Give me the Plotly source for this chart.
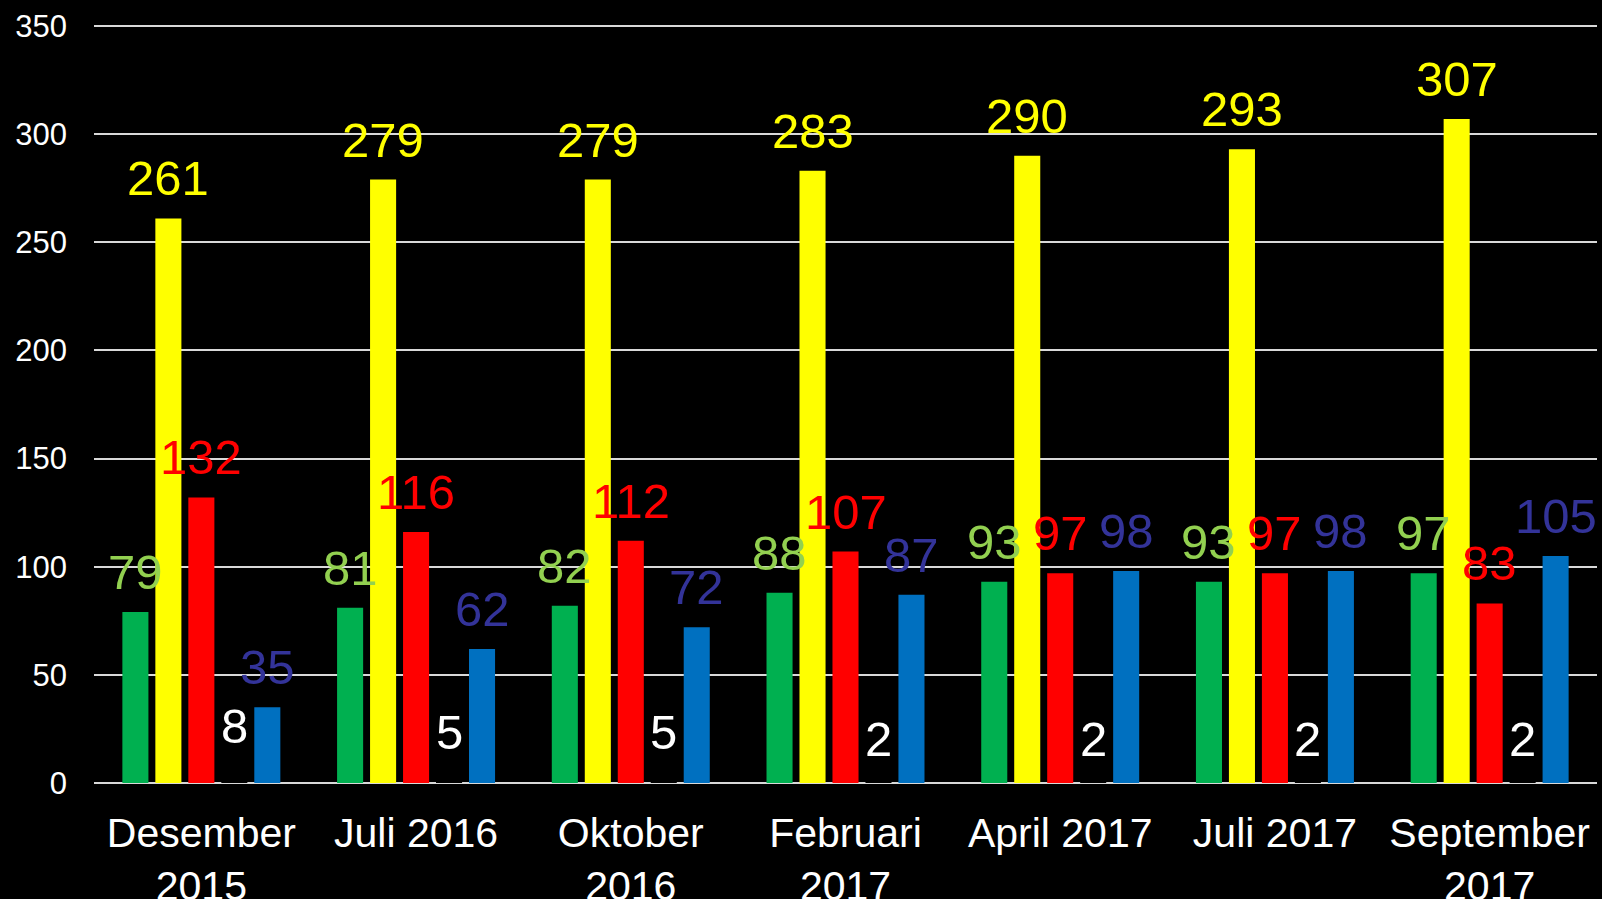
import plotly.graph_objects as go

categories = ["Desember<br>2015", "Juli 2016", "Oktober<br>2016", "Februari<br>2017",
              "April 2017", "Juli 2017", "September<br>2017"]
green_vals = [79, 81, 82, 88, 93, 93, 97]
yellow_vals = [261, 279, 279, 283, 290, 293, 307]
red_vals = [132, 116, 112, 107, 97, 97, 83]
white_vals = [8, 5, 5, 2, 2, 2, 2]
blue_vals = [35, 62, 72, 87, 98, 98, 105]
y_ticks = [0, 50, 100, 150, 200, 250, 300, 350]

series = [
    ("Hijau", green_vals, "#00B050", "#92D050"),
    ("Kuning", yellow_vals, "#FFFF00", "#FFFF00"),
    ("Merah", red_vals, "#FF0000", "#FF0000"),
    ("Putih", white_vals, "#000000", "#FFFFFF"),
    ("Biru", blue_vals, "#0070C0", "#333399"),
]

FONT = "Liberation Sans, Arial, sans-serif"
BARGAP = 0.232
BARGROUPGAP = 0.21

fig = go.Figure()
n = len(series)
slot = (1 - BARGAP) / n
annotations = []
for k, (name, vals, col, lcol) in enumerate(series):
    fig.add_trace(go.Bar(name=name, x=list(range(len(categories))), y=vals,
                         marker=dict(color=col, line=dict(width=0)),
                         hoverinfo="x+y"))
    off = (k - (n - 1) / 2) * slot
    for i, v in enumerate(vals):
        annotations.append(dict(x=i + off, y=v, xref="x", yref="y", text=str(v),
                                showarrow=False, yanchor="bottom", xanchor="center",
                                yshift=11, font=dict(family=FONT, size=49, color=lcol)))

fig.update_layout(
    width=1602, height=899,
    paper_bgcolor="#000000", plot_bgcolor="#000000",
    barmode="group", bargap=BARGAP, bargroupgap=BARGROUPGAP,
    showlegend=False,
    margin=dict(l=94, r=5, t=24, b=116, autoexpand=False),
    annotations=annotations,
    font=dict(family=FONT, color="#FFFFFF"),
    xaxis=dict(tickmode="array", tickvals=list(range(len(categories))), ticktext=categories,
               range=[-0.5, len(categories) - 0.5], automargin=False,
               tickfont=dict(size=41, color="#FFFFFF"), showgrid=False,
               showline=False, zeroline=False, ticks="", ticklabelstandoff=22),
    yaxis=dict(range=[0, 350.9], tickvals=y_ticks, showgrid=True, gridcolor="#D9D9D9",
               gridwidth=2, zeroline=True, zerolinecolor="#D9D9D9", zerolinewidth=2,
               automargin=False,
               tickfont=dict(size=31, color="#FFFFFF"), ticks="", ticklabelstandoff=26,
               showline=False),
)

fig.write_html("out.html", config={"displayModeBar": False},
               post_script="document.body.style.margin='0';document.body.style.background='#000';document.body.style.overflow='hidden';")
